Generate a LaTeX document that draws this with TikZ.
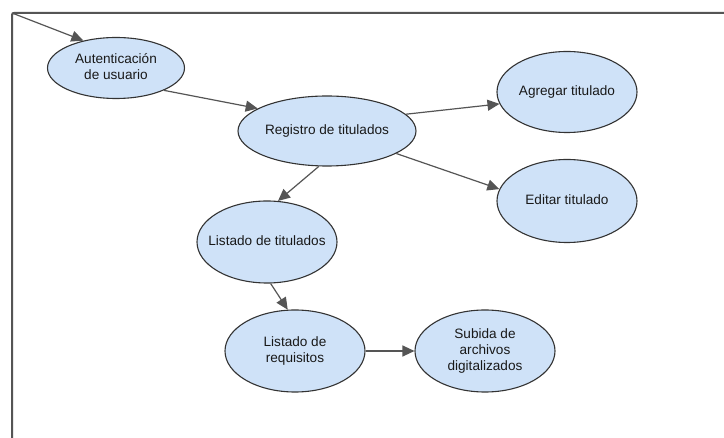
\documentclass[tikz,border=0pt]{standalone}
\usepackage{fontspec}
\setmainfont{Liberation Sans}
\usetikzlibrary{shapes.geometric,arrows.meta}
\definecolor{usecasefill}{HTML}{CFE2F8}
\definecolor{usecaseline}{HTML}{333333}
\definecolor{linkgray}{HTML}{555555}
% centred label whose width does not enlarge the ellipse
\newcommand{\uclabel}[1]{\makebox[0pt][c]{\begin{tabular}{@{}c@{}}#1\end{tabular}}}
\tikzset{
  usecase/.style={ellipse, draw=usecaseline, fill=usecasefill, line width=1.1pt,
    inner sep=0pt, font=\fontsize{13.6}{16}\selectfont, text=black!90},
  link/.style={draw=linkgray, line width=1.2pt, -{Triangle[length=12pt,width=11pt]}},
  frameline/.style={draw=linkgray, line width=2pt, rounded corners=2pt}
}
\begin{document}
\begin{tikzpicture}[x=1pt,y=-1pt]
\useasboundingbox (0,0) rectangle (724,438);
\fill[white] (0,0) rectangle (724,438);
% outer frame
\draw[frameline] (724,13) -- (12,13) -- (12,438);
\coordinate (corner) at (12,13);
% use cases
\node[usecase, minimum width=137pt, minimum height=61pt] (auth) at (116,68) {\uclabel{Autenticación\\de usuario}};
\node[usecase, minimum width=178pt, minimum height=70pt] (reg) at (327,131) {\uclabel{Registro de titulados}};
\node[usecase, minimum width=140pt, minimum height=81pt] (add) at (567,92) {\uclabel{Agregar titulado}};
\node[usecase, minimum width=140pt, minimum height=83pt] (edit) at (567,201) {\uclabel{Editar titulado}};
\node[usecase, minimum width=140pt, minimum height=82pt] (list) at (267,242) {\uclabel{Listado de titulados}};
\node[usecase, minimum width=140pt, minimum height=82pt] (req) at (295,351) {\uclabel{Listado de\\requisitos}};
\node[usecase, minimum width=140pt, minimum height=82pt] (up) at (485,351) {\uclabel{Subida de\\archivos\\digitalizados}};
% connectors
\draw[link] (corner) -- (auth.140);
\draw[link] (auth.-25) -- (reg.162);
\draw[link] (reg.12) -- (add.190);
\draw[link] (reg.-18) -- (edit.170);
\draw[link] (reg.-103) -- (list.75);
\draw[link] (list.-85) -- (req.100);
\draw[link] (req.east) -- (up.west);
\end{tikzpicture}
\end{document}
